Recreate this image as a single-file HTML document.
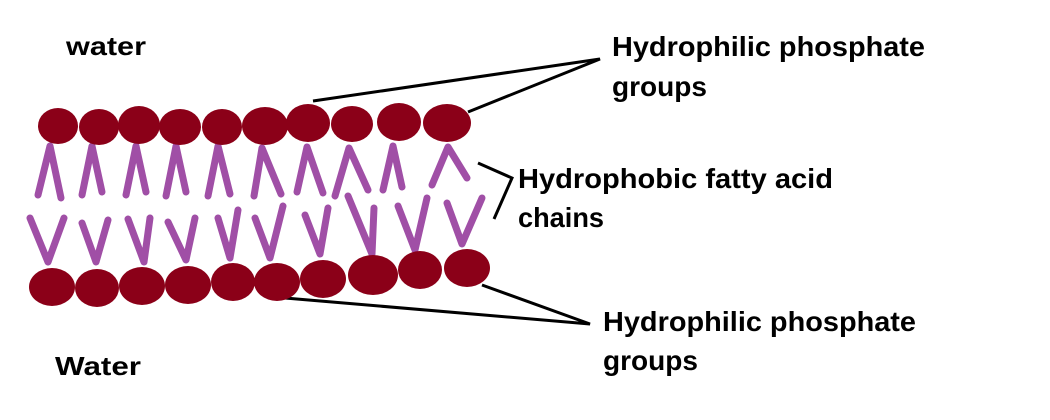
<!DOCTYPE html>
<html><head><style>body{margin:0;background:#fff}svg{display:block}</style></head><body>
<svg width="1050" height="420" viewBox="0 0 1050 420" xmlns="http://www.w3.org/2000/svg" font-family="Liberation Sans, sans-serif" font-weight="bold" font-size="28" fill="#000">
<g stroke="#000" stroke-width="3" fill="none">
<polyline points="313,101 600,59 468,112"/>
<polyline points="478,163 512,178 494,219"/>
<polyline points="285,298 590,324 482,285"/>
</g>
<g stroke="#a04fa6" stroke-width="7" stroke-linecap="round" stroke-linejoin="round" fill="none">
<polyline points="38,195 50,146 61,198"/>
<polyline points="82,195 92,146 102,192"/>
<polyline points="126,195 136,146 146,192"/>
<polyline points="166,196 176,146 186,192"/>
<polyline points="208,196 218,146 230,194"/>
<polyline points="254,196 262,148 281,194"/>
<polyline points="297,192 307,147 323,193"/>
<polyline points="335,196 349,148 368,190"/>
<polyline points="383,190 393,146 402,187"/>
<polyline points="432,185 448,147 467,178"/>
<polyline points="30,218 48,262 64,218"/>
<polyline points="82,223 96,262 108,220"/>
<polyline points="128,219 144,262 150,218"/>
<polyline points="168,222 186,260 195,218"/>
<polyline points="218,218 230,258 238,210"/>
<polyline points="255,218 270,258 283,206"/>
<polyline points="305,215 320,254 328,208"/>
<polyline points="348,196 372,254 374,208"/>
<polyline points="398,206 415,250 427,198"/>
<polyline points="447,203 462,244 482,198"/>
</g>
<g fill="#8b0018">
<ellipse cx="58" cy="126" rx="20" ry="18"/>
<ellipse cx="99" cy="127" rx="20" ry="18"/>
<ellipse cx="139" cy="125" rx="21" ry="19"/>
<ellipse cx="180" cy="127" rx="21" ry="18"/>
<ellipse cx="222" cy="127" rx="20" ry="18"/>
<ellipse cx="265" cy="126" rx="23" ry="19"/>
<ellipse cx="308" cy="123" rx="22" ry="19"/>
<ellipse cx="352" cy="124" rx="21" ry="18"/>
<ellipse cx="399" cy="122" rx="22" ry="19"/>
<ellipse cx="447" cy="123" rx="24" ry="19"/>
<ellipse cx="52" cy="287" rx="23" ry="19"/>
<ellipse cx="97" cy="288" rx="22" ry="19"/>
<ellipse cx="142" cy="286" rx="23" ry="19"/>
<ellipse cx="188" cy="285" rx="23" ry="19"/>
<ellipse cx="233" cy="282" rx="22" ry="19"/>
<ellipse cx="277" cy="282" rx="23" ry="19"/>
<ellipse cx="323" cy="279" rx="23" ry="19"/>
<ellipse cx="373" cy="275" rx="25" ry="20"/>
<ellipse cx="420" cy="270" rx="22" ry="19"/>
<ellipse cx="467" cy="268" rx="23" ry="19"/>
</g>
<text x="66" y="55" font-size="26" textLength="80" lengthAdjust="spacingAndGlyphs">water</text>
<text x="55" y="375" font-size="26" textLength="86" lengthAdjust="spacingAndGlyphs">Water</text>
<text x="612" y="56" textLength="313" lengthAdjust="spacingAndGlyphs">Hydrophilic phosphate</text>
<text x="612" y="96" textLength="95" lengthAdjust="spacingAndGlyphs">groups</text>
<text x="518" y="188" textLength="315" lengthAdjust="spacingAndGlyphs">Hydrophobic fatty acid</text>
<text x="518" y="227" textLength="86" lengthAdjust="spacingAndGlyphs">chains</text>
<text x="603" y="331" textLength="313" lengthAdjust="spacingAndGlyphs">Hydrophilic phosphate</text>
<text x="603" y="370" textLength="95" lengthAdjust="spacingAndGlyphs">groups</text>
</svg>
</body></html>
